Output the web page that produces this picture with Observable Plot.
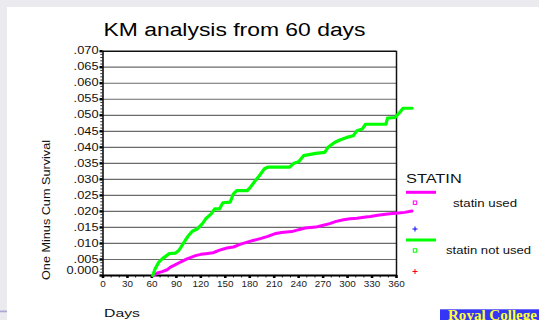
<!DOCTYPE html>
<html>
<head>
<meta charset="utf-8">
<script src="https://cdn.jsdelivr.net/npm/d3@7"></script>
<script src="https://cdn.jsdelivr.net/npm/@observablehq/plot@0.6"></script>
<style>
  html, body { margin: 0; padding: 0; background: #ebebef; }
  #chart { position: absolute; left: 0; top: 0; width: 539px; height: 320px; overflow: hidden; }
  svg { font-family: "Liberation Sans", Arial, sans-serif; }
</style>
</head>
<body>
<div id="chart"></div>
<script>
// ---- data ----
const seriesNames = ["statin used", "statin not used"];
const legendTitle = "STATIN";
const chartTitle = "KM analysis from 60 days";
const xTitle = "Days";
const yTitle = "One Minus Cum Survival";
const badge = "Royal College";

const usedDays = [63,66.5,72.6,78.7,82.8,89,95,103,113.5,120,126,135,143,152,160,168,177,185,194,202,210.5,219,231.5,240,248,261,269,278,286,295,303,311.5,320,328,337,349,362,370,379];
const usedValues = [0,.0008,.0012,.0018,.0026,.0034,.0042,.0052,.0062,.0066,.0068,.0071,.0079,.0086,.0089,.0097,.0104,.011,.0116,.0122,.013,.0134,.0137,.0143,.0148,.0151,.0156,.0162,.0169,.0174,.0177,.0179,.0182,.0184,.0188,.0192,.0195,.0197,.0201];

const notUsedDays = [61,64,68.5,72.6,78,81,89,93,97,101,105,109.5,116,122,126,133,137,143,147,156,160,164,177,181,185,192,198,202,229,234,240,246,261,272,276,284,290.5,299,307,311.5,318,322,347,349,358,364,368,379];
const notUsedValues = [0,.0021,.0042,.0052,.0062,.0068,.007,.0078,.0094,.011,.0125,.0138,.0146,.0162,.0177,.0193,.0208,.0208,.0227,.0229,.0255,.0265,.0265,.0276,.029,.0312,.0333,.0338,.0338,.035,.0355,.0374,.0381,.0384,.040,.0415,.0423,.0431,.0436,.0452,.0457,.0472,.0472,.0491,.0493,.0509,.0522,.0522];

const xTicks = [0,30,60,90,120,150,180,210,240,270,300,330,360];
const xMinorTicks = d3.range(0, 361, 10);
const yTicks = [0,.005,.010,.015,.020,.025,.030,.035,.040,.045,.050,.055,.060,.065,.070];
const yTickLabels = ["0.000",".005",".010",".015",".020",".025",".030",".035",".040",".045",".050",".055",".060",".065",".070"];
const yMinorTicks = d3.range(0, 71).map(i => i / 1000);

const used = usedDays.map((d, i) => ({day: d, value: usedValues[i]}));
const notUsed = notUsedDays.map((d, i) => ({day: d, value: notUsedValues[i]}));
const yLab = yTicks.map((v, i) => ({v, label: yTickLabels[i]}));

const colors = {used: "#ff00ff", notUsed: "#00ff00"};

const chart = Plot.plot({
  width: 539,
  height: 320,
  marginLeft: 102.5,
  marginRight: 143,
  marginTop: 50.7,
  marginBottom: 45,
  style: {background: "none", overflow: "visible"},
  x: {domain: [0, 360], label: null},
  y: {domain: [0, 0.07], label: null},
  marks: [
    Plot.ruleY(yTicks.slice(1, -1), {x1: 0, x2: 360, stroke: "#6a6a6a", strokeWidth: 1.2}),
    Plot.ruleY([0.07], {x1: 0, x2: 360, stroke: "#111", strokeWidth: 1.5}),
    Plot.ruleX([360], {y1: 0, y2: 0.07, stroke: "#111", strokeWidth: 1.5}),
    Plot.ruleX([0], {y1: 0, y2: 0.07, stroke: "#000", strokeWidth: 1.5}),
    Plot.ruleY([0], {x1: 0, x2: 360, stroke: "#000", strokeWidth: 1.8}),
    Plot.axisY({ticks: yMinorTicks, tickSize: 2.2, tickFormat: () => "", stroke: "#000", strokeWidth: 0.8}),
    Plot.axisY({ticks: yTicks, tickSize: 3, tickFormat: () => "", stroke: "#000", strokeWidth: 2.4}),
    Plot.axisX({ticks: xMinorTicks, tickSize: 2.5, tickFormat: () => "", stroke: "#000", strokeWidth: 0.9}),
    Plot.axisX({ticks: xTicks, tickSize: 3, tickFormat: () => "", stroke: "#000", strokeWidth: 2.6}),
    Plot.text(yLab.filter(d => d.v > 0), {x: 0, y: "v", text: "label", textAnchor: "end", dx: -4.5, fontSize: 10, fill: "#111"}),
    Plot.text(yLab.filter(d => d.v === 0), {x: 0, y: "v", text: "label", textAnchor: "end", dx: -4.5, dy: -4.5, fontSize: 10, fill: "#111"}),
    Plot.text(xTicks, {x: d => d, y: 0, text: d => String(d), dy: 9, fontSize: 9, fill: "#222"}),
    Plot.line(used, {x: "day", y: "value", stroke: colors.used, strokeWidth: 3}),
    Plot.line(notUsed, {x: "day", y: "value", stroke: colors.notUsed, strokeWidth: 3.2})
  ]
});

document.getElementById("chart").appendChild(chart);
const svg = d3.select(chart);

// stretch Plot tick labels horizontally (the source image is widened)
svg.selectAll("text").each(function() {
  const t = this;
  if (!t.textContent) return;
  const fs = t.closest("[font-size]") ? +t.closest("[font-size]").getAttribute("font-size") : 10;
  const f = fs === 10 ? 1.28 : 1.1;
  const len = t.getComputedTextLength();
  t.setAttribute("textLength", len * f);
  t.setAttribute("lengthAdjust", "spacingAndGlyphs");
});

// white slide area
svg.insert("rect", ":first-child").attr("x", 7).attr("y", 7).attr("width", 532).attr("height", 313).attr("fill", "#ffffff");
svg.insert("rect", ":first-child").attr("x", 0).attr("y", 310.5).attr("width", 8).attr("height", 1.8).attr("fill", "#a9a9d2");

function stretchedText(txt, x, y, size, len, opts = {}) {
  const el = svg.append("text")
    .attr("x", x).attr("y", y)
    .attr("font-size", size)
    .attr("fill", opts.fill || "#111")
    .attr("text-anchor", opts.anchor || "start")
    .attr("textLength", len)
    .attr("lengthAdjust", "spacingAndGlyphs")
    .text(txt);
  if (opts.transform) el.attr("transform", opts.transform);
  if (opts.family) el.attr("font-family", opts.family);
  if (opts.weight) el.attr("font-weight", opts.weight);
  return el;
}

stretchedText(chartTitle, 103.5, 36, 18, 262, {fill: "#000"});
stretchedText(yTitle, 0, 0, 11.5, 140, {anchor: "middle", transform: "translate(50,210) rotate(-90)"});
stretchedText(xTitle, 104, 317, 10.5, 36);

// legend
const lg = svg.append("g");
stretchedText(legendTitle, 406, 182.7, 12, 55.7);
const items = [
  {name: seriesNames[0], color: colors.used, y: 192.3, sq: 202.7, plus: 229, plusColor: "#0000ff", tx: 453, tl: 64, ty: 206.7},
  {name: seriesNames[1], color: colors.notUsed, y: 240, sq: 250.5, plus: 271.5, plusColor: "#ff0000", tx: 446, tl: 85, ty: 254}
];
for (const it of items) {
  lg.append("line").attr("x1", 406).attr("x2", 436).attr("y1", it.y).attr("y2", it.y)
    .attr("stroke", it.color).attr("stroke-width", 3);
  lg.append("rect").attr("x", 413.3).attr("y", it.sq - 1.7).attr("width", 3.4).attr("height", 3.4)
    .attr("fill", "#fff").attr("stroke", it.color).attr("stroke-width", 1);
  lg.append("path").attr("d", `M${412.5},${it.plus}h5M${415},${it.plus - 2.5}v5`)
    .attr("stroke", it.plusColor).attr("stroke-width", 1);
  stretchedText(it.name, it.tx, it.ty, 10, it.tl);
}

// badge
svg.append("rect").attr("x", 440).attr("y", 309.3).attr("width", 99).attr("height", 12).attr("fill", "#3535f5");
stretchedText(badge, 448, 320.3, 15, 89, {fill: "#ffff33", family: "'Liberation Serif', 'Times New Roman', serif", weight: "bold"});
</script>
</body>
</html>
